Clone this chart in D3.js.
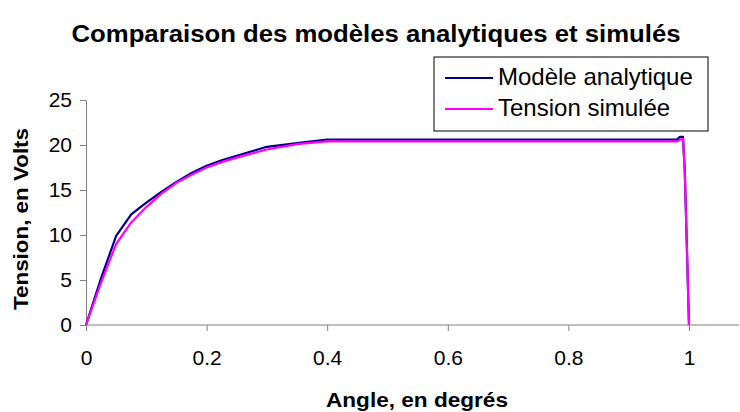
<!DOCTYPE html>
<html>
<head>
<meta charset="utf-8">
<script src="https://cdn.jsdelivr.net/npm/d3@7"></script>
<style>
  body { margin: 0; background: #fff; }
  svg text { font-family: "Liberation Sans", Arial, sans-serif; fill: #000; }
  .axis path, .axis line { stroke: #808080; }
</style>
</head>
<body>
<div id="chart"></div>
<script>
// values
var angle_analytique = [0, 0.025, 0.05, 0.075, 0.1, 0.125, 0.15, 0.175, 0.2, 0.225, 0.25, 0.275, 0.3, 0.35, 0.4, 0.5, 0.6, 0.7, 0.8, 0.9, 0.98, 0.985, 0.99, 0.993, 1];
var tension_analytique = [0, 5.2, 9.9, 12.3, 13.6, 14.8, 15.9, 16.9, 17.7, 18.3, 18.8, 19.3, 19.8, 20.2, 20.6, 20.6, 20.6, 20.6, 20.6, 20.6, 20.6, 20.9, 20.9, 17.2, 0];
var angle_simulee = [0, 0.025, 0.05, 0.075, 0.1, 0.125, 0.15, 0.175, 0.2, 0.225, 0.25, 0.3, 0.35, 0.4, 0.5, 0.6, 0.7, 0.8, 0.9, 0.98, 0.985, 0.99, 0.993, 1];
var tension_simulee = [0, 4.7, 9.0, 11.4, 13.1, 14.6, 15.8, 16.7, 17.5, 18.1, 18.6, 19.5, 20.1, 20.4, 20.4, 20.4, 20.4, 20.4, 20.4, 20.4, 20.6, 20.7, 17.0, 0];
var x_ticks = [0, 0.2, 0.4, 0.6, 0.8, 1];
var x_tick_labels = ["0", "0.2", "0.4", "0.6", "0.8", "1"];
var y_ticks = [0, 5, 10, 15, 20, 25];
var series_names = ["Modèle analytique", "Tension simulée"];
var series_colors = ["#000080", "#ff00ff"];

var width = 740, height = 412;
var left = 86, right_px = 689, top_px = 100, bottom_px = 325;

var svg = d3.select("#chart").append("svg")
  .attr("width", width)
  .attr("height", height);

var x = d3.scaleLinear().domain([0, 1]).range([left, right_px]);
var y = d3.scaleLinear().domain([0, 25]).range([bottom_px, top_px]);

// x axis, the line runs past 1 up to the right edge
var x_axis = svg.append("g")
  .attr("class", "axis")
  .attr("transform", "translate(0," + bottom_px + ")")
  .call(d3.axisBottom(x)
    .tickValues(x_ticks)
    .tickFormat(function (d, i) { return x_tick_labels[i]; })
    .tickSizeInner(6)
    .tickSizeOuter(0)
    .tickPadding(19));
x_axis.select(".domain").attr("d", "M" + left + ",0H" + (width - 1));
x_axis.selectAll("text").style("font-size", "21px");

var y_axis = svg.append("g")
  .attr("class", "axis")
  .attr("transform", "translate(" + left + ",0)")
  .call(d3.axisLeft(y)
    .tickValues(y_ticks)
    .tickSizeInner(6)
    .tickSizeOuter(0)
    .tickPadding(8));
y_axis.selectAll("text").style("font-size", "21px");

var line = d3.line()
  .x(function (d) { return x(d[0]); })
  .y(function (d) { return y(d[1]); });

var series = [
  d3.zip(angle_analytique, tension_analytique),
  d3.zip(angle_simulee, tension_simulee)
];

svg.selectAll(".serie")
  .data(series)
  .enter().append("path")
  .attr("class", "serie")
  .attr("d", line)
  .attr("fill", "none")
  .attr("stroke", function (d, i) { return series_colors[i]; })
  .attr("stroke-width", 2.2)
  .attr("stroke-linejoin", "round");

// title and axis names
svg.append("text")
  .attr("x", 376).attr("y", 42)
  .attr("text-anchor", "middle")
  .attr("textLength", 609).attr("lengthAdjust", "spacingAndGlyphs")
  .style("font-size", "23px").style("font-weight", "bold")
  .text("Comparaison des modèles analytiques et simulés");

svg.append("text")
  .attr("x", 417).attr("y", 407)
  .attr("text-anchor", "middle")
  .attr("textLength", 182).attr("lengthAdjust", "spacingAndGlyphs")
  .style("font-size", "20px").style("font-weight", "bold")
  .text("Angle, en degrés");

svg.append("text")
  .attr("transform", "translate(28," + 219 + ") rotate(-90)")
  .attr("text-anchor", "middle")
  .attr("textLength", 182).attr("lengthAdjust", "spacingAndGlyphs")
  .style("font-size", "20px").style("font-weight", "bold")
  .text("Tension, en Volts");

// legend
var legend = svg.append("g").attr("transform", "translate(434,57)");
legend.append("rect")
  .attr("width", 274).attr("height", 74)
  .attr("fill", "#fff").attr("stroke", "#000").attr("stroke-width", 1);
var item = legend.selectAll(".item")
  .data(series_names)
  .enter().append("g")
  .attr("class", "item")
  .attr("transform", function (d, i) { return "translate(0," + (21 + i * 31) + ")"; });
item.append("line")
  .attr("x1", 11).attr("x2", 59)
  .attr("stroke", function (d, i) { return series_colors[i]; })
  .attr("stroke-width", 2);
item.append("text")
  .attr("x", 64).attr("y", 7)
  .style("font-size", "24px")
  .text(function (d) { return d; });
</script>
</body>
</html>
